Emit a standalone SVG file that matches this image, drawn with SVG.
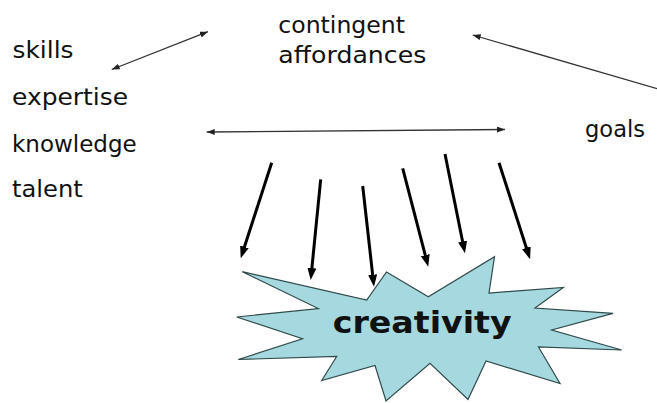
<svg xmlns="http://www.w3.org/2000/svg" width="657" height="403" viewBox="0 0 657 403">
  <defs>
    <style>
      .lbl { font-family: "DejaVu Sans", "Liberation Sans", sans-serif; font-size: 23px; fill: #111; }
      .big { font-family: "DejaVu Sans", "Liberation Sans", sans-serif; font-size: 31px; font-weight: bold; fill: #111; }
      .thin { fill: none; stroke: #333; stroke-width: 1.3; }
      .thick { fill: none; stroke: #000; stroke-width: 3; }
      .star { fill: #a5d8df; stroke: #2f4a4a; stroke-width: 1.2; stroke-linejoin: miter; }
    </style>
    <marker id="headSmall" viewBox="0 0 8 6" refX="8" refY="3" markerWidth="8" markerHeight="6" markerUnits="userSpaceOnUse" orient="auto-start-reverse">
      <path d="M0,0 L8,3 L0,6 z" fill="#222"/>
    </marker>
    <marker id="headBig" viewBox="0 0 12 9" refX="3" refY="4.5" markerWidth="12" markerHeight="9" markerUnits="userSpaceOnUse" orient="auto">
      <path d="M0,0 L12,4.5 L0,9 z" fill="#000"/>
    </marker>
  </defs>

  <rect width="657" height="403" fill="#ffffff"/>

  <!-- central burst -->
  <g id="creativity">
    <polygon class="star" points="242.3,271.7 366.7,300 386.5,272 428.3,296.7 494.5,256.7 489,293 563.3,287.5 535,308 613,313.3 551.7,330 621.7,350 538.5,347 560,383.5 486,361 468,399.5 430,363.3 386,401 375,365.5 321.7,380.5 336.7,356.5 238.3,359.5 302.5,338.7 236.7,317 318.3,308.5"/>
    <text class="big" x="332.7" y="333.3" textLength="179" lengthAdjust="spacingAndGlyphs">creativity</text>
  </g>

  <!-- labels -->
  <g id="skills"><text class="lbl" x="12.5" y="58.3" textLength="61" lengthAdjust="spacingAndGlyphs">skills</text></g>
  <g id="expertise"><text class="lbl" x="12" y="105" textLength="116" lengthAdjust="spacingAndGlyphs">expertise</text></g>
  <g id="knowledge"><text class="lbl" x="12" y="151.7" textLength="124.7" lengthAdjust="spacingAndGlyphs">knowledge</text></g>
  <g id="talent"><text class="lbl" x="12" y="196.7" textLength="70.7" lengthAdjust="spacingAndGlyphs">talent</text></g>
  <g id="affordances">
    <text class="lbl" x="278.3" y="33.3" textLength="126.7" lengthAdjust="spacingAndGlyphs">contingent</text>
    <text class="lbl" x="278.3" y="63.3" textLength="148" lengthAdjust="spacingAndGlyphs">affordances</text>
  </g>
  <g id="goals"><text class="lbl" x="585" y="136.7" textLength="60" lengthAdjust="spacingAndGlyphs">goals</text></g>

  <!-- connectors -->
  <g id="connectors">
    <line class="thin" x1="111.7" y1="69.5" x2="208" y2="31.7" marker-start="url(#headSmall)" marker-end="url(#headSmall)"/>
    <line class="thin" x1="660" y1="89.5" x2="472.7" y2="35" marker-end="url(#headSmall)"/>
    <line class="thin" x1="206.7" y1="132" x2="505" y2="129.5" marker-start="url(#headSmall)" marker-end="url(#headSmall)"/>

    <line class="thick" x1="271.7" y1="162.7" x2="243.5" y2="249.7" marker-end="url(#headBig)"/>
    <line class="thick" x1="320.7" y1="179.3" x2="311.6" y2="271" marker-end="url(#headBig)"/>
    <line class="thick" x1="362.7" y1="186" x2="373" y2="277.8" marker-end="url(#headBig)"/>
    <line class="thick" x1="402.7" y1="168.3" x2="426" y2="258" marker-end="url(#headBig)"/>
    <line class="thick" x1="445" y1="154" x2="463.2" y2="244.5" marker-end="url(#headBig)"/>
    <line class="thick" x1="499" y1="162.7" x2="527.3" y2="250.7" marker-end="url(#headBig)"/>
  </g>
</svg>
